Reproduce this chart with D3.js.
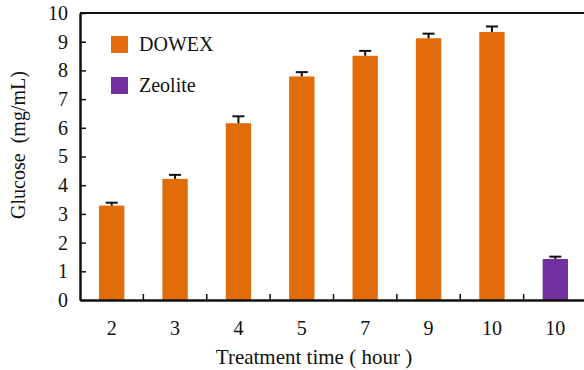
<!DOCTYPE html>
<html>
<head>
<meta charset="utf-8">
<script src="https://cdn.jsdelivr.net/npm/d3@7"></script>
<style>
  body { margin: 0; background: #fff; }
  svg text { font-family: "Liberation Serif", "Times New Roman", serif; fill: #111; }
</style>
</head>
<body>
<svg id="chart" width="584" height="370"></svg>
<script>
// data
const categories = ['2', '3', '4', '5', '7', '9', '10', '10 '];
const series = ['DOWEX', 'DOWEX', 'DOWEX', 'DOWEX', 'DOWEX', 'DOWEX', 'DOWEX', 'Zeolite'];
const values = [3.29, 4.22, 6.16, 7.79, 8.51, 9.12, 9.34, 1.43];
const errors = [0.10, 0.14, 0.24, 0.15, 0.17, 0.16, 0.19, 0.08];
const yTicks = [0, 1, 2, 3, 4, 5, 6, 7, 8, 9, 10];
const legendItems = ['DOWEX', 'Zeolite'];

const colors = { DOWEX: '#e36c0a', Zeolite: '#7030a0' };
const serif = '"Liberation Serif", "Times New Roman", serif';

const svg = d3.select('#chart');
const plotL = 80, plotT = 13, plotB = 300, plotR = 587;

const x = d3.scaleBand().domain(categories).range([plotL, plotR]).paddingInner(0.6).paddingOuter(0.3);
const y = d3.scaleLinear().domain([0, 10]).range([plotB, plotT]);

// bars
svg.selectAll('.bar')
  .data(values)
  .join('rect')
  .attr('class', 'bar')
  .attr('x', (d, i) => x(categories[i]))
  .attr('width', x.bandwidth())
  .attr('y', d => y(d))
  .attr('height', d => y(0) - y(d))
  .attr('fill', (d, i) => colors[series[i]]);

// error bars
const err = svg.selectAll('.err')
  .data(values)
  .join('g')
  .attr('class', 'err')
  .attr('stroke', '#111')
  .attr('stroke-width', 2);

err.append('line')
  .attr('x1', (d, i) => x(categories[i]) + x.bandwidth() / 2)
  .attr('x2', (d, i) => x(categories[i]) + x.bandwidth() / 2)
  .attr('y1', d => y(d))
  .attr('y2', (d, i) => y(d + errors[i]));

err.append('line')
  .attr('x1', (d, i) => x(categories[i]) + x.bandwidth() / 2 - 6)
  .attr('x2', (d, i) => x(categories[i]) + x.bandwidth() / 2 + 6)
  .attr('y1', (d, i) => y(d + errors[i]))
  .attr('y2', (d, i) => y(d + errors[i]));

// y axis
const yAxis = svg.append('g')
  .attr('transform', `translate(${plotL},0)`)
  .call(d3.axisLeft(y).tickValues(yTicks).tickSizeInner(-6).tickSizeOuter(0).tickPadding(12));
yAxis.attr('font-family', null);
yAxis.select('.domain').attr('stroke', '#111').attr('stroke-width', 2.5);
yAxis.selectAll('.tick line').attr('stroke', '#111').attr('stroke-width', 1.5);
yAxis.selectAll('.tick text').style('font-family', serif).style('font-size', '20px').attr('fill', '#111');

// top frame line
svg.append('line')
  .attr('x1', plotL).attr('x2', 584)
  .attr('y1', plotT).attr('y2', plotT)
  .attr('stroke', '#111').attr('stroke-width', 2);

// x axis
const xAxis = svg.append('g')
  .attr('transform', `translate(0,${plotB})`)
  .call(d3.axisBottom(x).tickSize(0).tickPadding(21).tickFormat(d => d.trim()));
xAxis.attr('font-family', null);
xAxis.select('.domain').attr('stroke', '#111').attr('stroke-width', 2.5);
xAxis.selectAll('.tick text').style('font-family', serif).style('font-size', '20px').attr('fill', '#111');

// category separators
const step = x.step();
svg.selectAll('.sep')
  .data(categories.slice(1))
  .join('line')
  .attr('class', 'sep')
  .attr('x1', d => x(d) - step * x.paddingInner() / 2)
  .attr('x2', d => x(d) - step * x.paddingInner() / 2)
  .attr('y1', plotB)
  .attr('y2', plotB - 6)
  .attr('stroke', '#111')
  .attr('stroke-width', 1.5);

// axis titles
svg.append('text')
  .attr('x', 314).attr('y', 364)
  .attr('text-anchor', 'middle')
  .style('font-family', serif)
  .style('font-size', '21px')
  .text('Treatment time ( hour )');

svg.append('text')
  .attr('transform', 'translate(25,145) rotate(-90)')
  .attr('text-anchor', 'middle')
  .style('font-family', serif)
  .style('font-size', '20px')
  .style('white-space', 'pre')
  .text('Glucose  (mg/mL)');

// legend
const legend = svg.selectAll('.legend')
  .data(legendItems)
  .join('g')
  .attr('class', 'legend')
  .attr('transform', (d, i) => `translate(111,${36 + i * 41})`);
legend.append('rect')
  .attr('width', 17).attr('height', 17)
  .attr('fill', d => colors[d]);
legend.append('text')
  .attr('x', 28).attr('y', 15)
  .style('font-family', serif)
  .style('font-size', '20px')
  .text(d => d);
</script>
</body>
</html>
